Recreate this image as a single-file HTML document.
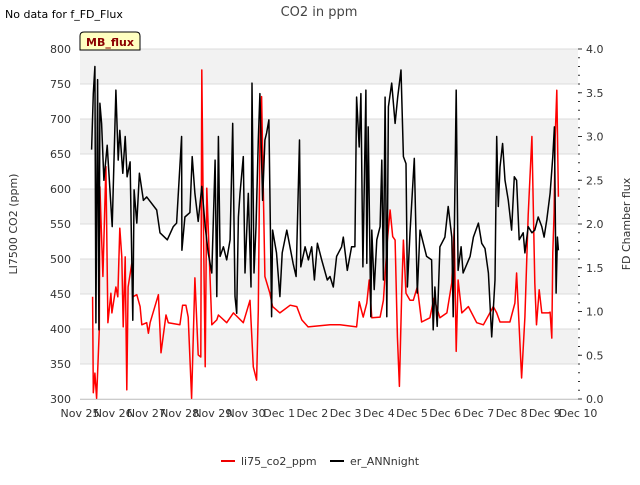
<!DOCTYPE html>
<html><head><meta charset="utf-8"><style>
body{margin:0;background:#fff;font-family:"Liberation Sans","DejaVu Sans",sans-serif;}
svg text{font-family:"DejaVu Sans","Liberation Sans",sans-serif;}
</style></head><body>
<svg id="c" width="640" height="480" xmlns="http://www.w3.org/2000/svg">
<rect width="640" height="480" fill="#fff"/>
<text x="5" y="18" font-size="11" fill="#000">No data for f_FD_Flux</text>
<text x="319" y="16" font-size="13" text-anchor="middle" fill="#444">CO2 in ppm</text>
<g id="bands"></g>
<g id="grid"></g>
<g id="series"></g>
<g id="axes"></g>
<g>
<path d="M80,50 L80,36 Q80,32 84,32 L136,32 Q140,32 140,36 L140,50 Z" fill="#ffffc0" stroke="#000" stroke-width="1"/>
<text x="110" y="46" font-size="11" font-weight="bold" text-anchor="middle" fill="#8b0000">MB_flux</text>
</g>
<text transform="translate(17,224) rotate(-90)" font-size="11" text-anchor="middle" fill="#333">LI7500 CO2 (ppm)</text>
<text transform="translate(630,224) rotate(-90)" font-size="11" text-anchor="middle" fill="#333">FD Chamber flux</text>
<g>
<g><line x1="221" y1="461" x2="235" y2="461" stroke="#e00" stroke-width="2"/><text x="241" y="465" font-size="11" fill="#333">li75_co2_ppm</text></g>
<g><line x1="330" y1="461" x2="344" y2="461" stroke="#000" stroke-width="2"/><text x="350" y="465" font-size="11" fill="#333">er_ANNnight</text></g>
</g>
</svg>
<script>
const xTickLabels=["Nov 25","Nov 26","Nov 27","Nov 28","Nov 29","Nov 30","Dec 1","Dec 2","Dec 3","Dec 4","Dec 5","Dec 6","Dec 7","Dec 8","Dec 9","Dec 10"];
const leftTicks=[300,350,400,450,500,550,600,650,700,750,800];
const rightTicks=[0,0.5,1,1.5,2,2.5,3,3.5,4];
const redDays=[0.38,0.40,0.45,0.50,0.58,0.60,0.69,0.78,0.84,0.93,0.96,1.08,1.14,1.20,1.26,1.30,1.36,1.41,1.45,1.56,1.59,1.71,1.81,1.86,2.01,2.06,2.11,2.36,2.44,2.59,2.66,3.01,3.09,3.19,3.26,3.36,3.46,3.56,3.64,3.67,3.71,3.77,3.82,3.97,4.12,4.17,4.42,4.62,4.92,5.12,5.22,5.32,5.37,5.42,5.47,5.57,5.72,5.80,6.02,6.33,6.53,6.68,6.87,7.53,7.83,8.33,8.41,8.53,8.64,8.71,8.79,9.04,9.14,9.26,9.34,9.42,9.49,9.56,9.62,9.69,9.74,9.82,9.94,10.04,10.16,10.29,10.54,10.66,10.84,11.05,11.20,11.27,11.33,11.39,11.50,11.70,11.95,12.15,12.45,12.55,12.65,12.95,13.10,13.15,13.30,13.40,13.50,13.61,13.70,13.75,13.83,13.91,14.11,14.16,14.21,14.24,14.28,14.31,14.36,14.41];
const redPpm=[446,309,337,301,399,603,475,632,409,451,423,460,446,544,503,403,503,313,460,494,446,449,432,406,409,394,409,449,366,420,409,406,434,434,417,301,473,363,360,770,575,346,601,406,413,420,409,423,409,441,346,327,427,668,732,475,451,432,423,434,432,413,403,406,406,403,439,417,437,470,416,417,441,527,570,532,527,389,318,451,527,451,441,441,460,410,416,444,416,423,466,544,368,470,423,432,409,406,432,423,410,410,437,480,330,417,563,675,466,406,456,423,423,424,387,509,566,670,741,589];
const blackDays=[0.35,0.40,0.45,0.48,0.53,0.57,0.60,0.65,0.72,0.82,0.97,1.08,1.15,1.20,1.29,1.36,1.42,1.51,1.59,1.63,1.71,1.79,1.91,2.01,2.31,2.41,2.63,2.81,2.91,3.06,3.07,3.16,3.31,3.38,3.46,3.56,3.67,3.77,3.86,3.97,4.07,4.12,4.17,4.22,4.32,4.42,4.52,4.60,4.67,4.72,4.77,4.82,4.92,4.97,5.07,5.15,5.18,5.24,5.30,5.37,5.42,5.50,5.57,5.62,5.69,5.77,5.80,5.92,6.02,6.09,6.23,6.42,6.51,6.61,6.65,6.78,6.88,6.98,7.06,7.15,7.28,7.45,7.53,7.63,7.73,7.88,7.93,8.05,8.18,8.28,8.33,8.41,8.46,8.52,8.61,8.64,8.68,8.76,8.79,8.86,8.94,9.04,9.09,9.14,9.19,9.24,9.29,9.39,9.49,9.57,9.67,9.74,9.82,9.86,9.94,10.07,10.16,10.24,10.44,10.59,10.64,10.69,10.76,10.84,10.99,11.09,11.20,11.24,11.33,11.39,11.48,11.54,11.75,11.85,12.00,12.10,12.20,12.30,12.40,12.50,12.55,12.60,12.65,12.73,12.80,12.90,13.00,13.08,13.15,13.23,13.35,13.40,13.50,13.61,13.70,13.80,13.91,13.98,14.06,14.16,14.24,14.29,14.34,14.38,14.41];
const blackFlux=[2.85,3.49,3.80,0.87,3.65,0.79,3.38,3.15,2.50,2.90,1.97,3.53,2.73,3.07,2.58,3.00,2.54,2.71,0.90,2.39,2.01,2.58,2.27,2.31,2.16,1.90,1.82,1.97,2.01,3.00,1.70,2.08,2.13,2.77,2.35,2.03,2.43,1.97,1.67,1.44,2.73,1.17,3.00,1.63,1.74,1.59,1.82,3.15,1.17,0.98,2.08,2.35,2.77,1.44,2.35,1.28,3.61,1.44,1.97,2.96,3.49,2.27,2.96,3.04,3.19,0.94,1.93,1.67,1.17,1.67,1.93,1.55,1.40,2.96,1.51,1.74,1.59,1.74,1.36,1.78,1.59,1.36,1.40,1.28,1.63,1.74,1.85,1.47,1.74,1.74,3.45,2.88,3.49,1.51,3.53,1.55,3.11,0.94,1.93,1.25,1.82,1.97,2.73,1.36,3.45,0.94,3.34,3.61,3.15,3.45,3.76,2.77,2.69,1.28,1.90,2.75,1.21,1.93,1.63,1.59,0.79,1.28,0.83,1.74,1.85,2.20,1.85,0.94,3.53,1.47,1.74,1.44,1.63,1.85,2.01,1.78,1.72,1.44,0.71,1.36,3.00,2.20,2.65,2.92,2.50,2.27,1.93,2.54,2.50,1.82,1.90,1.67,1.97,1.90,1.93,2.08,1.97,1.85,2.05,2.35,2.77,3.11,1.21,1.85,1.70];

const X0=80,X1=578,Y0=399,Y1=49;
const xS=d=>X0+d*(X1-X0)/15;
const yL=v=>Y0-(v-300)*(Y0-Y1)/500;
const yR=v=>Y0-v*(Y0-Y1)/4;
const NS="http://www.w3.org/2000/svg";
function mk(parent,tag,attrs){const e=document.createElementNS(NS,tag);for(const k in attrs)e.setAttribute(k,attrs[k]);document.getElementById(parent).appendChild(e);return e;}

for(let i=0;i<leftTicks.length-1;i++){
  if(i%2===1){const r=mk('bands','rect',{x:X0,y:yL(leftTicks[i+1]),width:X1-X0,height:yL(leftTicks[i])-yL(leftTicks[i+1]),fill:'#f2f2f2'});
  
  }
}
leftTicks.forEach(v=>{
  const l=mk('grid','line',{x1:X0,x2:X1,y1:yL(v),y2:yL(v),stroke:'#dcdcdc','stroke-width':1});
  
  
  const t=mk('axes','text',{x:X0-9,y:yL(v)+4,'font-size':11,'text-anchor':'end',fill:'#333'});
  t.textContent=v;
  
  
});
rightTicks.forEach(v=>{
  const t=mk('axes','text',{x:X1+8,y:yR(v)+4,'font-size':11,fill:'#333'});
  t.textContent=v.toFixed(1);
  
  
  mk('axes','line',{x1:X1,x2:X1+4,y1:yR(v),y2:yR(v),stroke:'#333'});
});
for(let v=0;v<=4.001;v+=0.1){mk('axes','line',{x1:X1,x2:X1+2,y1:yR(v),y2:yR(v),stroke:'#333'});}
xTickLabels.forEach((s,i)=>{
  const t=mk('axes','text',{x:xS(i),y:Y0+18,'font-size':11,'text-anchor':'middle',fill:'#333'});
  t.textContent=s;
  
  
});
mk('axes','line',{x1:X0,x2:X1,y1:Y0+0.5,y2:Y0+0.5,stroke:'#ccc'});

const rp=mk('series','polyline',{points:redDays.map((d,i)=>xS(d).toFixed(1)+','+yL(redPpm[i]).toFixed(1)).join(' '),fill:'none',stroke:'#f00','stroke-width':1.5,'stroke-linejoin':'round'});


const bp=mk('series','polyline',{points:blackDays.map((d,i)=>xS(d).toFixed(1)+','+yR(blackFlux[i]).toFixed(1)).join(' '),fill:'none',stroke:'#000','stroke-width':1.5,'stroke-linejoin':'round'});


</script>
</body></html>
